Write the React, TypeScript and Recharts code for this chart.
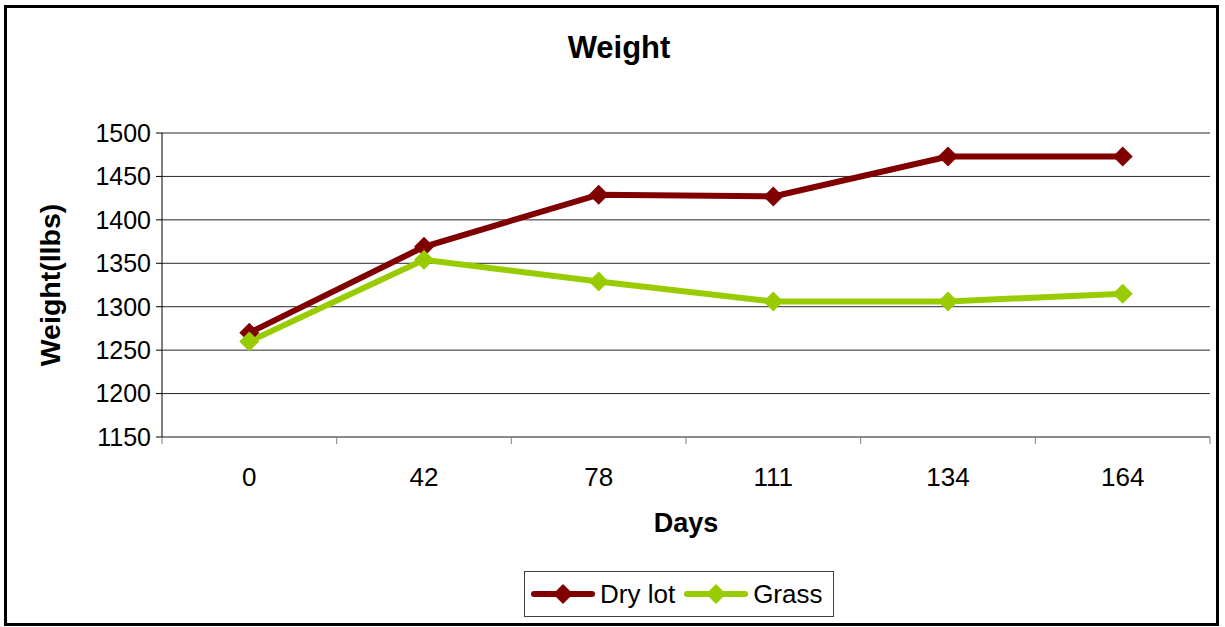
import React from "react";
import {
  CartesianGrid,
  Legend,
  Line,
  LineChart,
  XAxis,
  YAxis,
} from "recharts";

const days = ["0", "42", "78", "111", "134", "164"];
const dryLot = [1270, 1369, 1429, 1427, 1473, 1473];
const grass = [1260, 1354, 1329, 1306, 1306, 1315];
const yTicks = [1150, 1200, 1250, 1300, 1350, 1400, 1450, 1500];

const DRY = "#800000";
const GRASS = "#99CC00";
const FONT = "Arial, 'Liberation Sans', sans-serif";

const W = 1225;
const H = 627;
const PLOT_LEFT = 162;
const PLOT_RIGHT = 1210;
const PLOT_TOP = 133;
const PLOT_BOTTOM = 437;
const band = (PLOT_RIGHT - PLOT_LEFT) / days.length;

const data = days.map((d, i) => ({ day: d, dry: dryLot[i], grass: grass[i] }));

function Diamond(props: any) {
  const { cx, cy, fill } = props;
  if (cx == null || cy == null) return null;
  const r = 10;
  return (
    <polygon
      points={`${cx},${cy - r} ${cx + r},${cy} ${cx},${cy + r} ${cx - r},${cy}`}
      fill={fill}
    />
  );
}

// category label in the middle, tick marks on the category boundaries
function DayTick(props: any) {
  const { x, y, payload, index } = props;
  const left = x - band / 2;
  return (
    <g>
      <line x1={left} y1={y} x2={left} y2={y + 7} stroke="#808080" />
      {index === days.length - 1 && (
        <line x1={x + band / 2} y1={y} x2={x + band / 2} y2={y + 7} stroke="#808080" />
      )}
      <text
        x={x}
        y={y + 40}
        textAnchor="middle"
        dominantBaseline="central"
        fontSize={26}
        fontFamily={FONT}
        fill="#000"
      >
        {payload.value}
      </text>
    </g>
  );
}

function LegendBox() {
  const item = (color: string, label: string) => (
    <div style={{ display: "flex", alignItems: "center" }}>
      <svg width={64} height={22}>
        <line x1={3} y1={11} x2={61} y2={11} stroke={color} strokeWidth={6} strokeLinecap="round" />
        <polygon points="32,1 42,11 32,21 22,11" fill={color} />
      </svg>
      <span style={{ marginLeft: 5, marginRight: 9 }}>{label}</span>
    </div>
  );
  return (
    <div
      style={{
        display: "flex",
        alignItems: "center",
        border: "1px solid #404040",
        background: "#fff",
        padding: "0 2px 0 6px",
        height: 46,
        boxSizing: "border-box",
        fontFamily: FONT,
        fontSize: 26,
        color: "#000",
        whiteSpace: "nowrap",
      }}
    >
      {item(DRY, "Dry lot")}
      {item(GRASS, "Grass")}
    </div>
  );
}

export default function App() {
  return (
    <div style={{ position: "absolute", left: 0, top: 0, width: W, height: H, background: "#fff" }}>
      <div
        style={{
          position: "absolute",
          left: 4,
          top: 5,
          width: 1215,
          height: 621,
          border: "3px solid #000",
          boxSizing: "border-box",
        }}
      />
      <div
        style={{
          position: "absolute",
          left: 519,
          width: 200,
          top: 30,
          textAlign: "center",
          fontFamily: FONT,
          fontWeight: "bold",
          fontSize: 31,
          color: "#000",
        }}
      >
        Weight
      </div>
      <div style={{ position: "absolute", left: 0, top: 0 }}>
        <LineChart
          width={W}
          height={H}
          data={data}
          margin={{ top: PLOT_TOP, right: W - PLOT_RIGHT, left: 0, bottom: 0 }}
        >
          <CartesianGrid horizontal vertical={false} stroke="#000" strokeOpacity={0.85} />
          <XAxis
            dataKey="day"
            height={H - PLOT_BOTTOM}
            stroke="#808080"
            padding={{ left: band / 2, right: band / 2 }}
            tickLine={false}
            tickSize={0}
            tickMargin={0}
            interval={0}
            tick={<DayTick />}
            label={() => (
              <text
                x={(PLOT_LEFT + PLOT_RIGHT) / 2}
                y={523}
                textAnchor="middle"
                dominantBaseline="central"
                fontSize={27}
                fontWeight="bold"
                fontFamily={FONT}
                fill="#000"
              >
                Days
              </text>
            )}
          />
          <YAxis
            width={PLOT_LEFT}
            domain={[1150, 1500]}
            ticks={yTicks}
            interval={0}
            stroke="#000"
            tickSize={6}
            tickMargin={5}
            tick={{ fontSize: 25, fontFamily: FONT, fill: "#000" }}
            label={() => (
              <text
                x={50}
                y={(PLOT_TOP + PLOT_BOTTOM) / 2}
                transform={`rotate(-90 50 ${(PLOT_TOP + PLOT_BOTTOM) / 2})`}
                textAnchor="middle"
                dominantBaseline="central"
                fontSize={28.5}
                fontWeight="bold"
                fontFamily={FONT}
                fill="#000"
              >
                Weight(llbs)
              </text>
            )}
          />
          <Legend
            layout="horizontal"
            verticalAlign="middle"
            align="center"
            wrapperStyle={{ position: "absolute", left: 524, top: 571, width: "auto" }}
            content={() => <LegendBox />}
          />
          <Line
            type="linear"
            dataKey="dry"
            name="Dry lot"
            stroke={DRY}
            strokeWidth={6}
            dot={<Diamond fill={DRY} />}
            activeDot={false}
            isAnimationActive={false}
          />
          <Line
            type="linear"
            dataKey="grass"
            name="Grass"
            stroke={GRASS}
            strokeWidth={6}
            dot={<Diamond fill={GRASS} />}
            activeDot={false}
            isAnimationActive={false}
          />
        </LineChart>
      </div>
    </div>
  );
}
